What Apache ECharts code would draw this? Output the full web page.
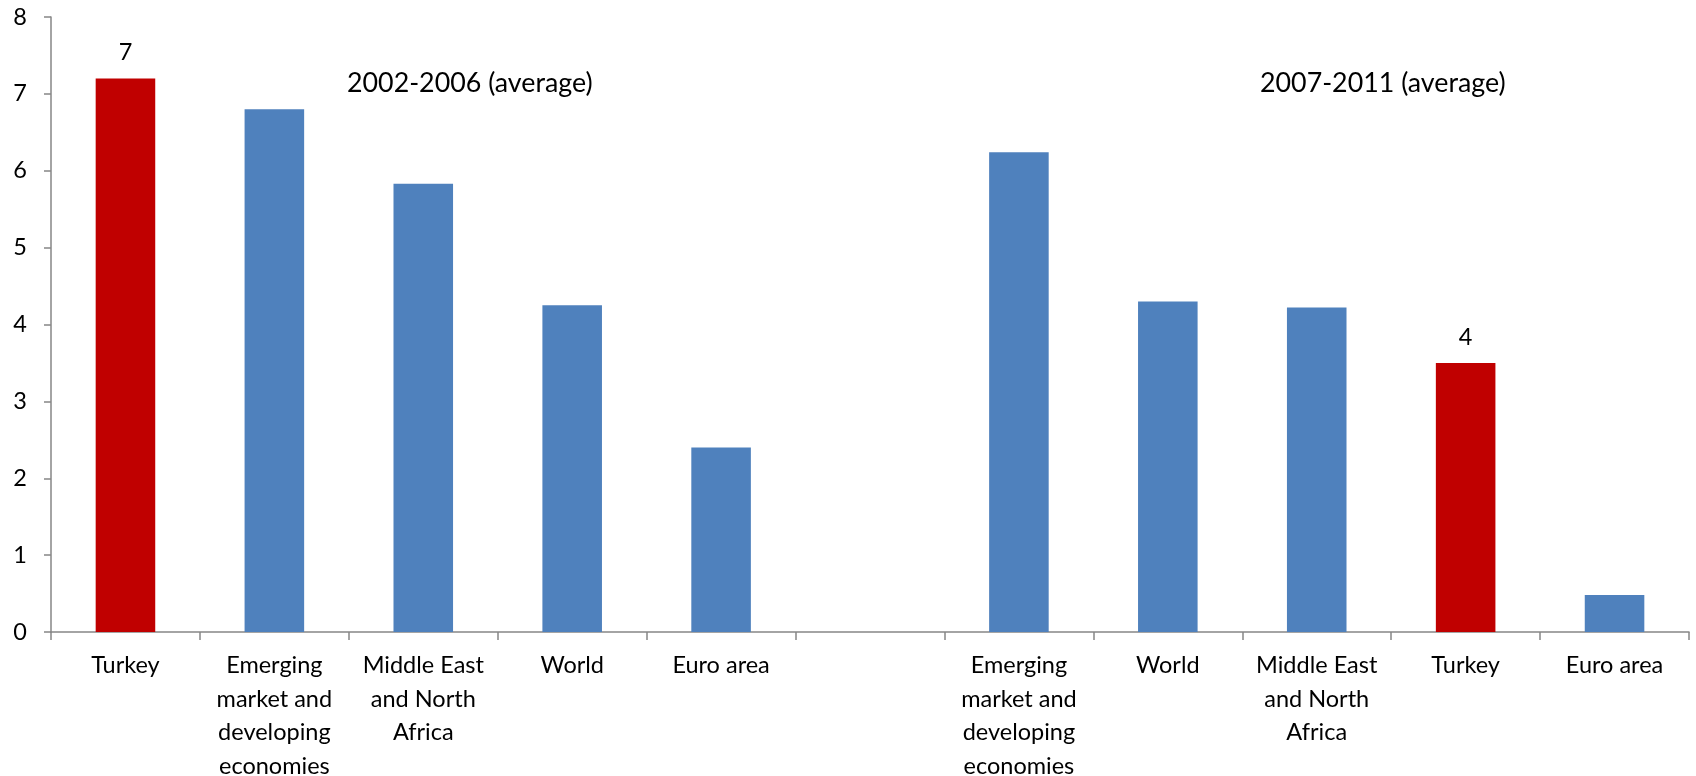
<!DOCTYPE html>
<html>
<head>
<meta charset="utf-8">
<script src="https://cdn.jsdelivr.net/npm/echarts@6/dist/echarts.min.js"></script>
<style>html,body{margin:0;padding:0;background:#fff}#c{width:1696px;height:776px}</style>
</head>
<body>
<div id="c"></div>
<script>
const categories = ['Turkey', 'Emerging\nmarket and\ndeveloping\neconomies', 'Middle East\nand North\nAfrica', 'World', 'Euro area', '',
  'Emerging\nmarket and\ndeveloping\neconomies', 'World', 'Middle East\nand North\nAfrica', 'Turkey', 'Euro area'];
const values = [7.2, 6.8, 5.83, 4.25, 2.4, null, 6.24, 4.3, 4.22, 3.5, 0.48];
const highlight = [true, false, false, false, false, false, false, false, false, true, false];
const yTicks = [0, 1, 2, 3, 4, 5, 6, 7, 8];
const periodLabels = ['2002-2006 (average)', '2007-2011 (average)'];

const FONT = 'Lato, "Open Sans", sans-serif';
const chart = echarts.init(document.getElementById('c'), null, {renderer: 'canvas'});
chart.setOption({
  animation: false,
  grid: {left: 51, right: 7, top: 17, bottom: 144, containLabel: false, outerBoundsMode: 'none'},
  xAxis: {
    type: 'category',
    data: categories,
    axisLine: {lineStyle: {color: '#868686', width: 1.5}},
    axisTick: {show: true, alignWithLabel: false, interval: 0, length: 8, lineStyle: {color: '#868686', width: 1.5}},
    axisLabel: {interval: 0, color: '#000', fontFamily: FONT, fontSize: 23.5, lineHeight: 33.5, margin: 17}
  },
  yAxis: {
    type: 'value',
    min: yTicks[0], max: yTicks[yTicks.length - 1], interval: 1,
    splitLine: {show: false},
    axisLine: {show: true, lineStyle: {color: '#868686', width: 1.5}},
    axisTick: {show: true, length: 7, lineStyle: {color: '#868686', width: 1.5}},
    axisLabel: {color: '#000', fontFamily: FONT, fontSize: 23.5, margin: 24}
  },
  series: [{
    type: 'bar',
    barWidth: '40%',
    data: values.map((v, i) => ({
      value: v,
      itemStyle: {color: highlight[i] ? '#C00000' : '#4F81BD'},
      label: {
        show: highlight[i],
        position: 'top',
        distance: 14,
        color: '#000',
        fontFamily: FONT,
        fontSize: 23.5,
        formatter: p => Math.round(p.value)
      }
    }))
  }],
  graphic: [
    {type: 'text', x: 347, y: 83, style: {text: periodLabels[0], font: '26.8px ' + FONT, fill: '#000', align: 'left', verticalAlign: 'middle'}},
    {type: 'text', x: 1260, y: 83, style: {text: periodLabels[1], font: '26.8px ' + FONT, fill: '#000', align: 'left', verticalAlign: 'middle'}}
  ]
});
</script>
</body>
</html>
